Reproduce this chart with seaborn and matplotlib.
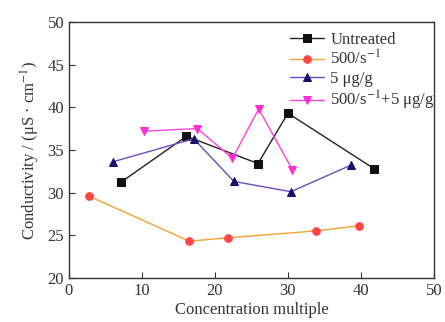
import matplotlib
matplotlib.use("Agg")
import matplotlib.pyplot as plt
import seaborn as sns
import pandas as pd

sns.set_theme(style="ticks")
plt.rcParams['font.family'] = ['Liberation Serif', 'DejaVu Serif']
plt.rcParams['mathtext.fontset'] = 'stix'

untreated_x = [7.1, 16.1, 25.9, 30.0, 41.8]
untreated_y = [31.2, 36.6, 33.4, 39.3, 32.8]
shear_x = [2.7, 16.5, 21.8, 33.8, 39.7]
shear_y = [29.6, 24.3, 24.7, 25.5, 26.1]
dose_x = [6.0, 17.1, 22.6, 30.4, 38.6]
dose_y = [33.6, 36.3, 31.3, 30.1, 33.2]
combo_x = [10.3, 17.6, 22.4, 26.0, 30.6]
combo_y = [37.2, 37.5, 34.0, 39.8, 32.7]

labels = ["Untreated", "500/s$^{-1}$", "5 μg/g", "500/s$^{-1}$+5 μg/g"]
series = [(untreated_x, untreated_y), (shear_x, shear_y), (dose_x, dose_y), (combo_x, combo_y)]
line_colors = ["#222222", "#f7a030", "#6a4cc4", "#ff40e0"]
marker_colors = ["#111111", "#ff4545", "#1a1070", "#ff30d0"]
markers = ["s", "o", "^", "v"]

fig = plt.figure(figsize=(4.45, 3.22), dpi=100)
ax = fig.add_axes([0.155, 0.137, 0.82, 0.795])

for (xs, ys), lab, lc, mc, mk in zip(series, labels, line_colors, marker_colors, markers):
    df = pd.DataFrame({"x": xs, "y": ys})
    sns.lineplot(data=df, x="x", y="y", ax=ax, sort=False, color=lc, label=lab,
                 marker=mk, markersize=5.5, markerfacecolor=mc, markeredgecolor=mc,
                 linewidth=1.0)

ax.set_xlim(0, 50)
ax.set_ylim(20, 50)
ax.set_xticks([0, 10, 20, 30, 40, 50])
ax.set_yticks([20, 25, 30, 35, 40, 45, 50])
ax.tick_params(direction="in", labelsize=12, length=4, width=0.8, colors="#333333", labelcolor="#333333")
for s in ax.spines.values():
    s.set_linewidth(1.0)
    s.set_color("#333333")
ax.set_xlabel("Concentration multiple", fontsize=12, color="#333333", labelpad=2)
ax.set_ylabel("Conductivity / (μS · cm$^{-1}$)", fontsize=12, color="#333333", labelpad=4)
leg = ax.legend(loc="upper right", bbox_to_anchor=(1.03, 1.0), frameon=False, fontsize=12,
                handlelength=2.0, labelspacing=0.12, borderaxespad=0.2, handletextpad=0.4)
for t in leg.get_texts():
    t.set_color("#333333")

fig.savefig("out.png", dpi=100)
